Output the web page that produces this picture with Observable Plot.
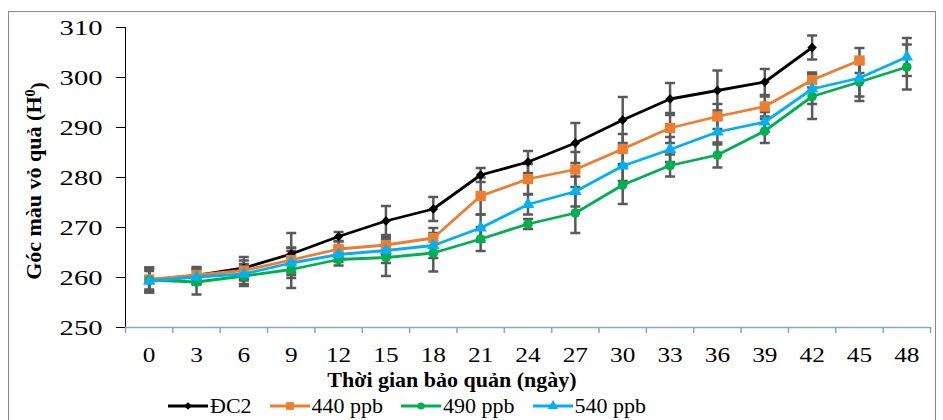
<!DOCTYPE html>
<html>
<head>
<meta charset="utf-8">
<script src="https://cdn.jsdelivr.net/npm/d3@7"></script>
<script src="https://cdn.jsdelivr.net/npm/@observablehq/plot@0.6"></script>
<style>
  body { margin: 0; background: #fff; }
  #fig { position: relative; width: 943px; height: 420px; overflow: hidden;
         font-family: "Liberation Serif", "Times New Roman", serif; color: #000; }
  #frame { position: absolute; left: 8px; top: 11px; width: 928px; height: 440px;
           border: 1.5px solid #8a8a8a; box-sizing: border-box; }
  #chart { position: absolute; left: 0; top: 0; }
  #xtitle { position: absolute; left: 0; width: 904px; top: 369px; text-align: center;
            font-family: "Liberation Serif", "Times New Roman", serif;
            font-weight: bold; font-size: 22px; line-height: 22px; }
  #legend { position: absolute; left: 168px; top: 395px; display: flex; align-items: center;
            font-family: "Liberation Serif", "Times New Roman", serif;
            font-size: 22px; line-height: 22px; white-space: nowrap; }
  .item { display: flex; align-items: center; margin-right: 18px; }
  .item svg { margin-right: 2px; }
</style>
</head>
<body>
<div id="fig">
  <div id="frame"></div>
  <div id="chart"></div>
  <div id="xtitle">Thời gian bảo quản (ngày)</div>
  <div id="legend"></div>
</div>
<script>
// Storage time (days)
const days = [0, 3, 6, 9, 12, 15, 18, 21, 24, 27, 30, 33, 36, 39, 42, 45, 48];

// Peel hue angle (H°) per treatment, with error bar half-widths
const seriesNames = ["ĐC2", "440 ppb", "490 ppb", "540 ppb"];
const dc2     = [259.5, 260.4, 261.9, 264.7, 268.2, 271.3, 273.7, 280.5, 283.1, 286.9, 291.5, 295.7, 297.4, 299.1, 306.0];
const dc2Err  = [2.5, 1.7, 2.2, 4.2, 0.9, 3.0, 2.4, 1.4, 2.2, 4.0, 4.6, 3.2, 4.0, 2.6, 2.4];
const p440    = [259.6, 260.5, 261.4, 263.5, 265.7, 266.5, 267.9, 276.3, 279.7, 281.6, 285.7, 289.9, 292.2, 294.2, 299.5, 303.4];
const p440Err = [2.0, 1.5, 2.0, 2.5, 1.5, 2.0, 2.0, 3.7, 3.0, 3.5, 3.0, 3.0, 2.5, 2.0, 1.5, 2.5];
const p490    = [259.5, 259.1, 260.3, 261.6, 263.6, 264.0, 264.9, 267.7, 270.7, 272.9, 278.5, 282.4, 284.5, 289.3, 296.2, 299.1, 302.1];
const p490Err = [2.5, 2.5, 2.0, 3.7, 1.2, 3.7, 3.7, 2.4, 1.0, 4.0, 3.8, 2.2, 2.5, 2.4, 4.5, 3.8, 4.5];
const p540    = [259.3, 260.1, 260.7, 262.9, 264.6, 265.4, 266.4, 269.9, 274.6, 277.2, 282.3, 285.6, 289.1, 291.1, 297.7, 299.9, 304.1];
const p540Err = [2.0, 1.5, 2.0, 3.0, 1.5, 2.5, 2.5, 2.7, 2.0, 3.0, 3.0, 2.5, 2.5, 2.0, 3.0, 3.7, 3.8];

// Axis ticks
const yTicks = [250, 260, 270, 280, 290, 300, 310];
const xLabels = days;

// Appearance of each series
const styles = [
  { color: "#000000", symbol: "square",   r: 3.8, rotate: 45, legendSize: 30, d3sym: d3.symbolSquare },
  { color: "#ED7D31", symbol: "square",   r: 5.8, rotate: 0,  legendSize: 60, d3sym: d3.symbolSquare },
  { color: "#00B050", symbol: "circle",   r: 4.8, rotate: 0,  legendSize: 40, d3sym: d3.symbolCircle },
  { color: "#00B0F0", symbol: "triangle", r: 4.6, rotate: 0,  legendSize: 45, d3sym: d3.symbolTriangle }
];

const values = [dc2, p440, p490, p540];
const errors = [dc2Err, p440Err, p490Err, p540Err];

const rows = seriesNames.flatMap((name, s) =>
  values[s].map((v, i) => ({ series: name, day: days[i], value: v, err: errors[s][i] }))
);

// Category boundaries on the time axis (half a step either side of each day)
const step = days[1] - days[0];
const xBounds = [days[0] - step / 2, ...days.map(d => d + step / 2)];
const xDomain = [xBounds[0], xBounds[xBounds.length - 1]];
const yDomain = [yTicks[0], yTicks[yTicks.length - 1]];

// Horizontal cap for the error bars
const capSymbol = {
  draw(context) {
    context.moveTo(-5, 0);
    context.lineTo(5, 0);
  }
};

const errColor = "#595959";
const axisColor = "#8EA4C2";

const marks = [
  // error bars
  Plot.ruleX(rows, { x: "day", y1: d => d.value - d.err, y2: d => d.value + d.err, stroke: errColor, strokeWidth: 2.5 }),
  Plot.dot(rows, { x: "day", y: d => d.value + d.err, symbol: capSymbol, r: 1, fill: "none", stroke: errColor, strokeWidth: 2.5 }),
  Plot.dot(rows, { x: "day", y: d => d.value - d.err, symbol: capSymbol, r: 1, fill: "none", stroke: errColor, strokeWidth: 2.5 }),
];

seriesNames.forEach((name, s) => {
  const data = rows.filter(d => d.series === name);
  const st = styles[s];
  marks.push(Plot.line(data, { x: "day", y: "value", stroke: st.color, strokeWidth: 2.8 }));
  marks.push(Plot.dot(data, { x: "day", y: "value", symbol: st.symbol, r: st.r, fill: st.color, rotate: st.rotate, stroke: "none" }));
});

marks.push(
  Plot.ruleX([xDomain[0]], { stroke: "#000", strokeWidth: 1 }),
  Plot.ruleY([yDomain[0]], { stroke: axisColor, strokeWidth: 1.5 }),
  Plot.axisY({ ticks: yTicks, tickSize: 9, tickPadding: 14, fontSize: 22, label: null, stroke: "#000" }),
  Plot.axisX({ ticks: xBounds, tickSize: 6, tickFormat: () => "", label: null, stroke: axisColor, strokeWidth: 1.5 }),
  Plot.axisX({ ticks: xLabels, tickSize: 0, tickPadding: 19, fontSize: 22, label: null, tickFormat: d => String(d) })
);

const chart = Plot.plot({
  width: 943,
  height: 372,
  marginTop: 27,
  marginBottom: 45,
  marginLeft: 125,
  marginRight: 13,
  style: { fontFamily: "Liberation Serif, Times New Roman, serif", color: "#000", background: "transparent", overflow: "visible" },
  x: { domain: xDomain },
  y: { domain: yDomain },
  marks
});

// Vertical axis title with superscript
const yTitle = d3.select(chart).append("text")
  .attr("transform", "translate(41,181) rotate(-90)")
  .attr("text-anchor", "middle")
  .attr("fill", "#000")
  .style("font", "bold 22px 'Liberation Serif', 'Times New Roman', serif");
yTitle.append("tspan").text("Góc màu vỏ quả (H");
yTitle.append("tspan").attr("dy", "-0.45em").attr("font-size", "14px").text("0");
yTitle.append("tspan").attr("dy", "0.45em").text(")");

document.getElementById("chart").appendChild(chart);

// Wide tick numerals
function widen(selector, factor) {
  d3.select(chart).selectAll(selector).each(function () {
    const len = this.getComputedTextLength();
    if (len > 0) {
      this.setAttribute("textLength", len * factor);
      this.setAttribute("lengthAdjust", "spacingAndGlyphs");
    }
  });
}
widen("g[aria-label='y-axis tick label'] text", 1.3);
widen("g[aria-label='x-axis tick label'] text", 1.15);

// Legend: a line through each series marker, followed by its name
const legend = d3.select("#legend");
seriesNames.forEach((name, s) => {
  const st = styles[s];
  const item = legend.append("div").attr("class", "item");
  const sw = item.append("svg").attr("width", 40).attr("height", 22);
  sw.append("line").attr("x1", 0).attr("x2", 40).attr("y1", 11).attr("y2", 11)
    .attr("stroke", st.color).attr("stroke-width", 2.8);
  sw.append("path")
    .attr("d", d3.symbol(st.d3sym, st.legendSize)())
    .attr("transform", `translate(20,11) rotate(${st.rotate})`)
    .attr("fill", st.color);
  item.append("span").text(name);
});
</script>
</body>
</html>
